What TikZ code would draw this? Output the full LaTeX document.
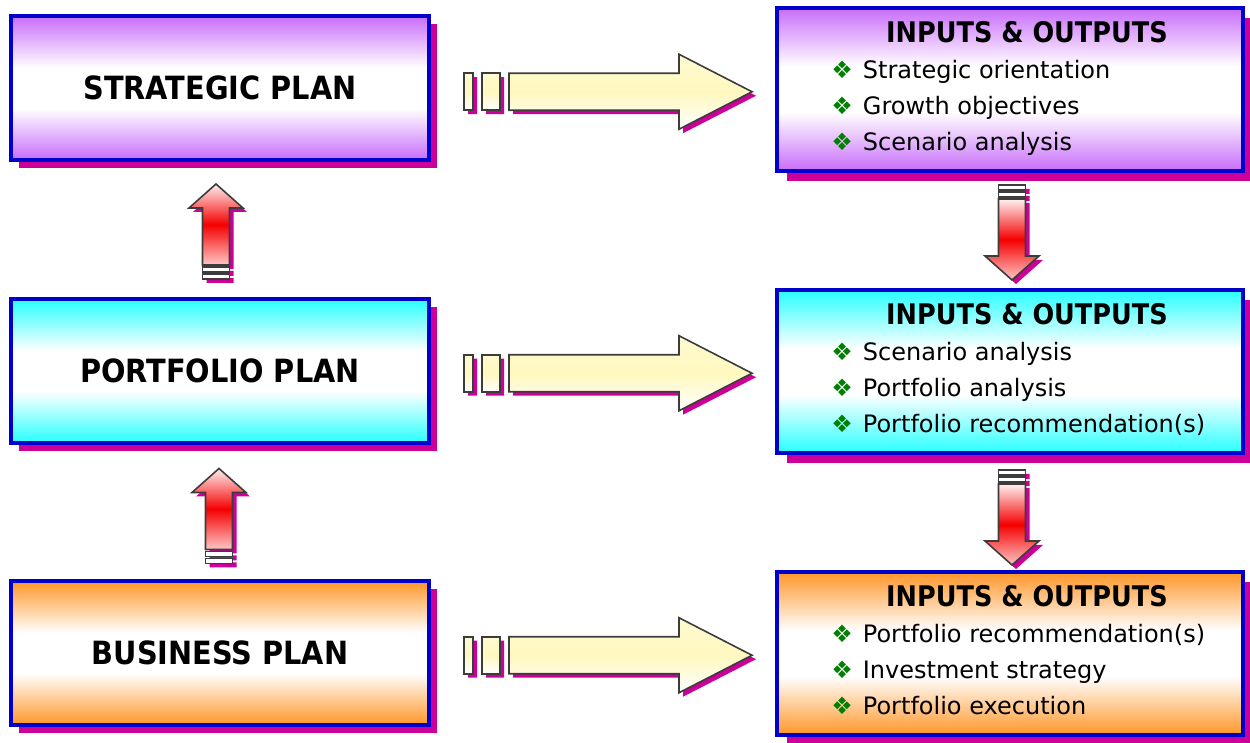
\documentclass[tikz,border=0pt]{standalone}
\usepackage{fontspec}
\setmainfont{DejaVu Sans}
\newfontfamily\tahomalike[FakeStretch=0.9]{DejaVu Sans}
\usepackage{tikz}
\usetikzlibrary{shadows, calc}

\definecolor{BoxBlue}{RGB}{0,0,204}
\definecolor{ShadowMag}{RGB}{204,0,153}
\definecolor{PlanPurple}{RGB}{200,108,250}
\definecolor{PlanCyan}{RGB}{40,255,255}
\definecolor{PlanOrange}{RGB}{255,150,40}
\definecolor{BulletGreen}{RGB}{0,128,0}
\definecolor{ArrowYellow}{RGB}{255,248,190}
\definecolor{ArrowRed}{RGB}{245,0,0}
\definecolor{ArrowEdge}{RGB}{60,60,60}

\pgfdeclareverticalshading{purpleband}{100bp}{color(0bp)=(PlanPurple); color(25bp)=(PlanPurple); color(43bp)=(white); color(57bp)=(white); color(75bp)=(PlanPurple); color(100bp)=(PlanPurple)}
\pgfdeclareverticalshading{cyanband}{100bp}{color(0bp)=(PlanCyan); color(25bp)=(PlanCyan); color(43bp)=(white); color(57bp)=(white); color(75bp)=(PlanCyan); color(100bp)=(PlanCyan)}
\pgfdeclareverticalshading{orangeband}{100bp}{color(0bp)=(PlanOrange); color(25bp)=(PlanOrange); color(43bp)=(white); color(57bp)=(white); color(75bp)=(PlanOrange); color(100bp)=(PlanOrange)}

% block arrow outlines, in pixels
\newcommand\harrowpath{(-99,-18.5) -- (71,-18.5) -- (71,-37.5) -- (144,0) -- (71,37.5) -- (71,18.5) -- (-99,18.5) -- cycle}
\newcommand\varrowpath{(0,-47.5) -- (27,-23.5) -- (13.5,-23.5) -- (13.5,33.5) -- (-13.5,33.5) -- (-13.5,-23.5) -- (-27,-23.5) -- cycle}
\newcommand\vblockarrow[1]{%
    \begin{scope}[shift={(4,4)}, yscale=#1]
        \fill[ShadowMag] \varrowpath;
        \fill[ShadowMag] (-13.5,35.5) rectangle (13.5,40.5) (-13.5,42.5) rectangle (13.5,47.5);
    \end{scope}
    \begin{scope}[yscale=#1]
        \shade[arrowedge, top color=red!6, bottom color=red!22, middle color=ArrowRed] \varrowpath;
        \filldraw[arrowedge, fill=white] (-13.5,35.5) rectangle (13.5,40.5);
        \filldraw[arrowedge, fill=white] (-13.5,42.5) rectangle (13.5,47.5);
    \end{scope}}
\newcommand\iobullet{\textcolor{BulletGreen}{\fontsize{12}{13}\selectfont ❖}\hspace{5pt}}

\tikzset{
    arrowedge/.style={draw=ArrowEdge, line width=0.8pt, line join=miter},
    yellowfill/.style={top color=ArrowYellow!70, bottom color=white, middle color=ArrowYellow},
    planbox/.style={draw=BoxBlue, line width=2pt, minimum width=209pt, minimum height=72pt, inner sep=0pt, shade,
        general shadow={fill=ShadowMag, shadow xshift=4pt, shadow yshift=-4pt},
        font=\tahomalike\fontsize{16}{18}\selectfont\bfseries},
    iobox/.style={draw=BoxBlue, line width=2pt, minimum width=233pt, minimum height=81.5pt, inner sep=0pt, shade,
        general shadow={fill=ShadowMag, shadow xshift=5pt, shadow yshift=-5pt}},
    iotitle/.style={anchor=base, inner sep=0pt, font=\tahomalike\fontsize{14.2}{16}\selectfont\bfseries},
    ioitem/.style={anchor=base west, inner sep=0pt, font=\fontsize{12}{14}\selectfont},
    blockright/.pic={
        \begin{scope}[shift={(4,4)}]
            \fill[ShadowMag] (-144,-18.5) rectangle (-135,18.5) (-126,-18.5) rectangle (-108,18.5);
            \fill[ShadowMag] \harrowpath;
        \end{scope}
        \shade[arrowedge, yellowfill] (-144,-18.5) rectangle (-135,18.5);
        \shade[arrowedge, yellowfill] (-126,-18.5) rectangle (-108,18.5);
        \shade[arrowedge, yellowfill] \harrowpath;
    },
    blockup/.pic={\vblockarrow{1}},
    blockdown/.pic={\vblockarrow{-1}}
}

\begin{document}
\begin{tikzpicture}[x=0.5pt, y=-0.5pt]
    \useasboundingbox (0,0) rectangle (1250,743);

    % the three plans
    \node (sp) at (220,88) [planbox, shading=purpleband] {STRATEGIC PLAN};
    \node (pp) at (220,371) [planbox, shading=cyanband] {PORTFOLIO PLAN};
    \node (bp) at (220,653) [planbox, shading=orangeband] {BUSINESS PLAN};

    % inputs & outputs, strategic
    \node (io1) at (1010,89.5) [iobox, shading=purpleband] {};
    \node (io1t) at ([shift={(17,-46.5)}]io1.center) [iotitle] {INPUTS \& OUTPUTS};
    \node (io1a) at ([shift={(-179,-10.5)}]io1.center) [ioitem] {\iobullet Strategic orientation};
    \node (io1b) at ([shift={(-179,25.5)}]io1.center) [ioitem] {\iobullet Growth objectives};
    \node (io1c) at ([shift={(-179,61.5)}]io1.center) [ioitem] {\iobullet Scenario analysis};

    % inputs & outputs, portfolio
    \node (io2) at (1010,371.5) [iobox, shading=cyanband] {};
    \node (io2t) at ([shift={(17,-46.5)}]io2.center) [iotitle] {INPUTS \& OUTPUTS};
    \node (io2a) at ([shift={(-179,-10.5)}]io2.center) [ioitem] {\iobullet Scenario analysis};
    \node (io2b) at ([shift={(-179,25.5)}]io2.center) [ioitem] {\iobullet Portfolio analysis};
    \node (io2c) at ([shift={(-179,61.5)}]io2.center) [ioitem] {\iobullet Portfolio recommendation(s)};

    % inputs & outputs, business
    \node (io3) at (1010,653.5) [iobox, shading=orangeband] {};
    \node (io3t) at ([shift={(17,-46.5)}]io3.center) [iotitle] {INPUTS \& OUTPUTS};
    \node (io3a) at ([shift={(-179,-10.5)}]io3.center) [ioitem] {\iobullet Portfolio recommendation(s)};
    \node (io3b) at ([shift={(-179,25.5)}]io3.center) [ioitem] {\iobullet Investment strategy};
    \node (io3c) at ([shift={(-179,61.5)}]io3.center) [ioitem] {\iobullet Portfolio execution};

    % block arrows
    \pic at ($(sp.east)!0.5!(io1.west)+(5,3)$) {blockright};
    \pic at ($(pp.east)!0.5!(io2.west)+(5,2)$) {blockright};
    \pic at ($(bp.east)!0.5!(io3.west)+(5,2)$) {blockright};

    \pic at ($(sp.south)!0.5!(pp.north)+(-4,2)$) {blockup};
    \pic at ($(pp.south)!0.5!(bp.north)+(-1,4)$) {blockup};

    \pic at ($(io1.south)!0.5!(io2.north)+(2,2)$) {blockdown};
    \pic at ($(io2.south)!0.5!(io3.north)+(2,5)$) {blockdown};
\end{tikzpicture}
\end{document}
